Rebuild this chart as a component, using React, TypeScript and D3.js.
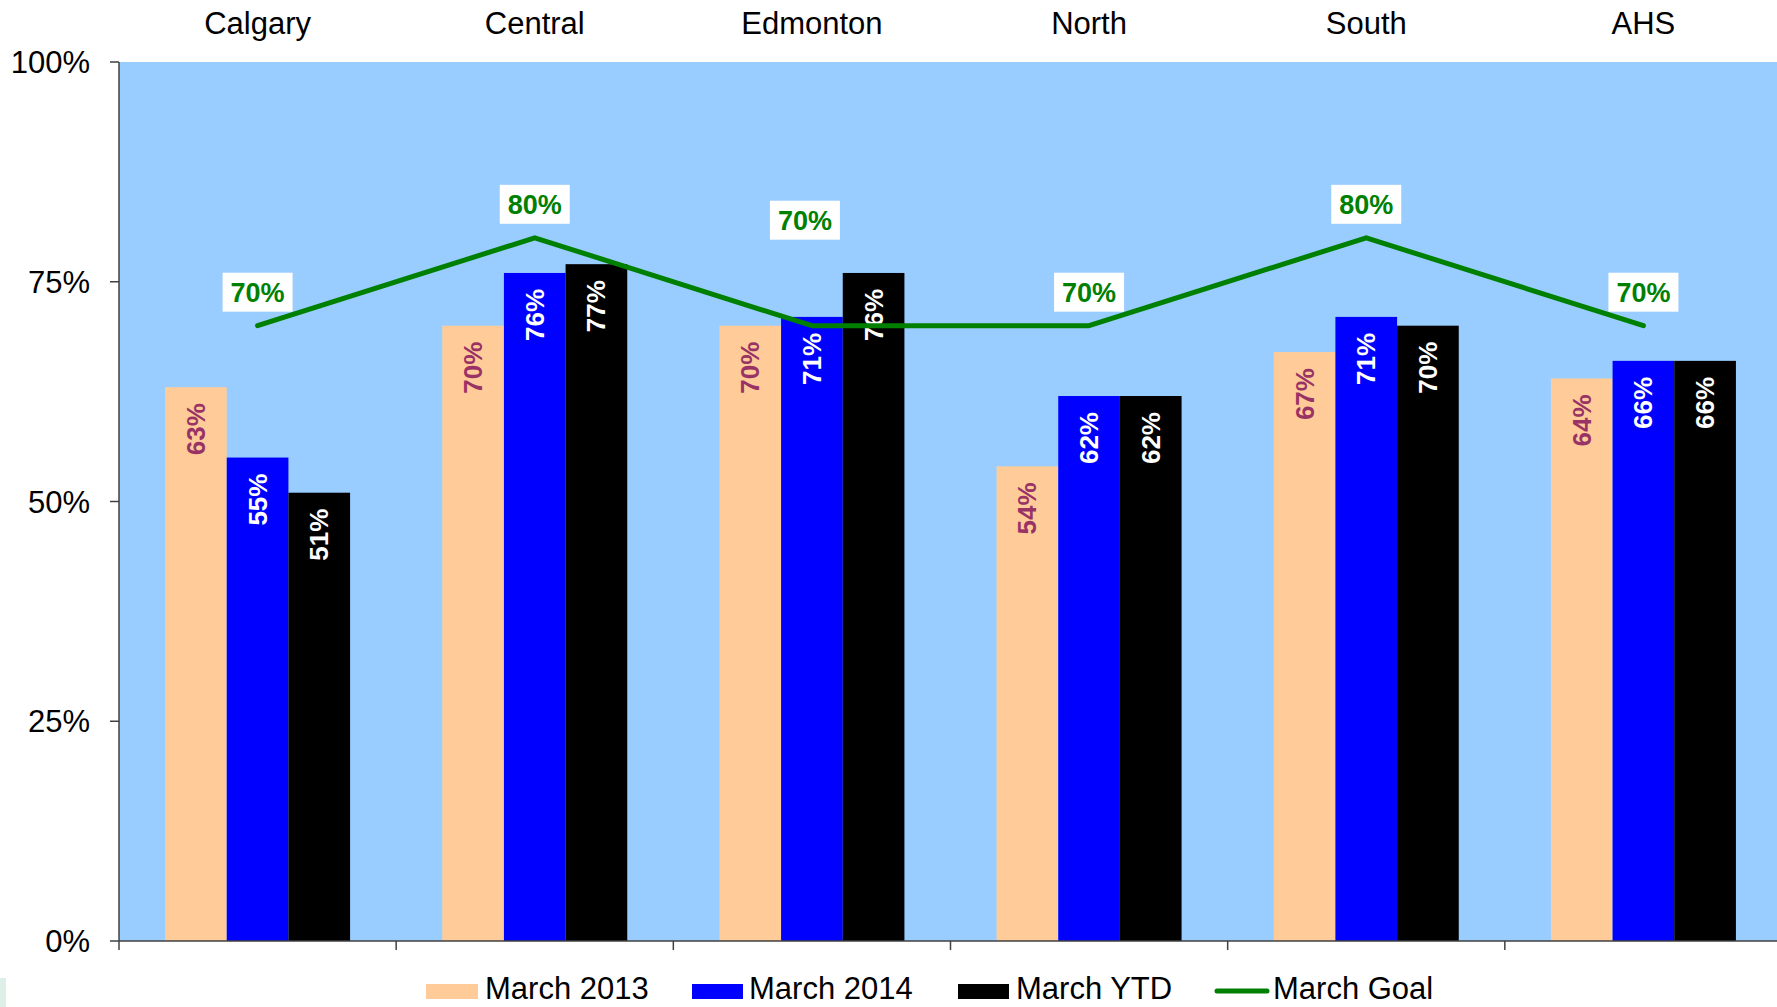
import React from "react";
import * as d3 from "d3";

const categories = ["Calgary", "Central", "Edmonton", "North", "South", "AHS"];
const march2013 = [63, 70, 70, 54, 67, 64];
const march2014 = [55, 76, 71, 62, 71, 66];
const marchYTD = [51, 77, 76, 62, 70, 66];
const marchGoal = [70, 80, 70, 70, 80, 70];
const yTicks = [0, 25, 50, 75, 100];
const seriesNames = ["March 2013", "March 2014", "March YTD"];
const seriesColors = ["#FFCC99", "#0000FF", "#000000"];
const labelColors = ["#993366", "#FFFFFF", "#FFFFFF"];

const W = 1777;
const H = 1007;
const left = 119;
const top = 62;
const bottom = 941;
const right = 1782;
const FONT = "'Liberation Sans', Arial, sans-serif";

export default function App() {
  const x0 = d3.scaleBand<string>().domain(categories).range([left, right]).padding(0);
  const step = x0.bandwidth();
  const groupW = 185;
  const x1 = d3
    .scaleBand<string>()
    .domain(seriesNames)
    .range([(step - groupW) / 2, (step + groupW) / 2])
    .padding(0);
  const y = d3.scaleLinear().domain([0, 100]).range([bottom, top]);
  const series = [march2013, march2014, marchYTD];
  const cx = (c: string) => (x0(c) as number) + step / 2;

  const line = d3
    .line<number>()
    .x((_, i) => cx(categories[i]))
    .y((d) => y(d));

  const boundaries = categories.map((c) => x0(c) as number);

  // manual nudge of the Edmonton goal label (moved above to avoid the bars)
  const goalLabelShift = (i: number) => (categories[i] === "Edmonton" ? { dx: -7, dy: -72 } : { dx: 0, dy: 0 });

  return (
    <svg
      width={W}
      height={H}
      style={{ position: "absolute", left: 0, top: 0, background: "#fff" }}
      fontFamily={FONT}
    >
      <rect x={left} y={top} width={right - left} height={bottom - top} fill="#99CCFF" />

      {/* bars */}
      {series.map((vals, si) =>
        vals.map((v, ci) => {
          const bx = (x0(categories[ci]) as number) + (x1(seriesNames[si]) as number);
          const bw = x1.bandwidth();
          return (
            <rect
              key={`b${si}-${ci}`}
              x={bx}
              y={y(v)}
              width={bw}
              height={bottom - y(v)}
              fill={seriesColors[si]}
            />
          );
        })
      )}

      {/* bar labels */}
      {series.map((vals, si) =>
        vals.map((v, ci) => {
          const bx =
            (x0(categories[ci]) as number) + (x1(seriesNames[si]) as number) + x1.bandwidth() / 2;
          const ty = y(v) + 16;
          return (
            <text
              key={`l${si}-${ci}`}
              transform={`translate(${bx + 9},${ty}) rotate(-90)`}
              textAnchor="end"
              fontSize={26}
              fontWeight="bold"
              fill={labelColors[si]}
            >
              {v}%
            </text>
          );
        })
      )}

      {/* goal line */}
      <path
        d={line(marchGoal) || ""}
        fill="none"
        stroke="#008000"
        strokeWidth={5}
        strokeLinejoin="round"
        strokeLinecap="round"
      />
      {marchGoal.map((g, i) => {
        const s = goalLabelShift(i);
        const px = cx(categories[i]) + s.dx;
        const py = y(g) + s.dy;
        return (
          <g key={`g${i}`}>
            <rect x={px - 35} y={py - 14 - 39} width={70} height={39} fill="#FFFFFF" />
            <text
              x={px}
              y={py - 14 - 10}
              textAnchor="middle"
              fontSize={27}
              fontWeight="bold"
              fill="#008000"
            >
              {g}%
            </text>
          </g>
        );
      })}

      {/* y axis */}
      <line x1={left} x2={left} y1={top} y2={bottom} stroke="#404040" strokeWidth={1.5} />
      {yTicks.map((t) => (
        <g key={`yt${t}`}>
          <line x1={left - 9} x2={left} y1={y(t)} y2={y(t)} stroke="#404040" strokeWidth={1.5} />
          <text x={90} y={y(t) + 11} textAnchor="end" fontSize={31} fill="#000">
            {t}%
          </text>
        </g>
      ))}

      {/* x axis */}
      <line x1={left} x2={right} y1={bottom} y2={bottom} stroke="#404040" strokeWidth={1.5} />
      {boundaries.map((b, i) => (
        <line key={`xt${i}`} x1={b} x2={b} y1={bottom} y2={bottom + 9} stroke="#404040" strokeWidth={1.5} />
      ))}

      {/* category labels at top */}
      {categories.map((c) => (
        <text key={`c${c}`} x={cx(c)} y={34} textAnchor="middle" fontSize={31} fill="#000">
          {c}
        </text>
      ))}

      {/* legend */}
      <g fontSize={31} fill="#000">
        <rect x={426} y={984} width={52} height={15} fill={seriesColors[0]} />
        <text x={485} y={999}>{seriesNames[0]}</text>
        <rect x={692} y={984} width={51} height={15} fill={seriesColors[1]} />
        <text x={749} y={999}>{seriesNames[1]}</text>
        <rect x={958} y={984} width={51} height={15} fill={seriesColors[2]} />
        <text x={1016} y={999}>{seriesNames[2]}</text>
        <line x1={1217} x2={1267} y1={991} y2={991} stroke="#008000" strokeWidth={5} strokeLinecap="round" />
        <text x={1273} y={999}>March Goal</text>
      </g>

      {/* small artifact at bottom-left */}
      <rect x={0} y={978} width={6} height={29} fill="#DDEFE6" />
    </svg>
  );
}
